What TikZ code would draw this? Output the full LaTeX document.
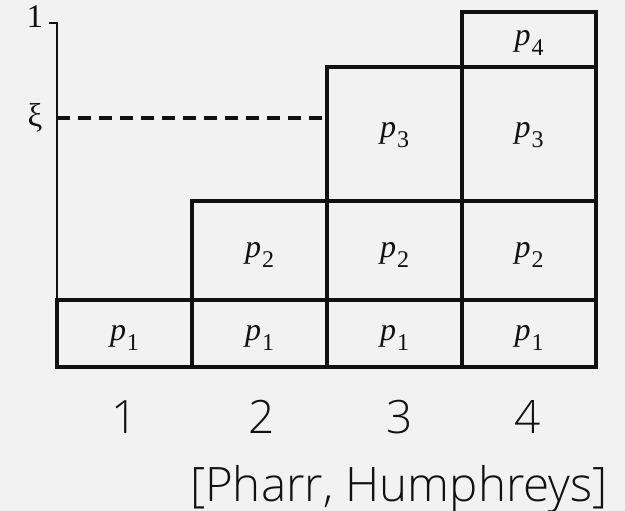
\documentclass[tikz,border=0pt]{standalone}
\usepackage{fontspec}
\setmainfont{Liberation Serif}
\newfontfamily\labelsans{Open Sans}[UprightFont={* Light}]
\definecolor{bg}{HTML}{F2F2F2}
\definecolor{ink}{HTML}{111111}
% probability label p_i
\newcommand{\plabel}[1]{{\fontsize{32}{32}\selectfont\itshape p}\kern1pt\raisebox{-10pt}{\fontsize{24}{24}\selectfont #1}}
\tikzset{
  cell/.style={draw=ink, line width=3.2pt},
  axisline/.style={draw=ink, line width=2pt},
  plab/.style={anchor=base, inner sep=0pt, text=ink},
  colnum/.style={anchor=base, inner sep=0pt, font=\labelsans\fontsize{46}{46}\selectfont, text=ink},
  axlab/.style={anchor=base, inner sep=0pt, text=ink, font=\fontsize{33}{33}\selectfont},
}
\begin{document}
\begin{tikzpicture}[x=1pt,y=-1pt]
  \fill[bg] (0,0) rectangle (625,511);
  \useasboundingbox (0,0) rectangle (625,511);

  % vertical axis with the tick at 1
  \coordinate (tick) at (49,23.5);
  \coordinate (top) at (57,23.5);
  \coordinate (origin) at (57,367);
  \draw[axisline] (tick) -- (top) -- (origin);

  % stacked cells: columns 1..4
  % column 1
  \draw[cell] (57,300) rectangle (192,367);
  % column 2
  \draw[cell] (192,300) rectangle (327,367);
  \draw[cell] (192,201) rectangle (327,300);
  % column 3
  \draw[cell] (327,300) rectangle (462,367);
  \draw[cell] (327,201) rectangle (462,300);
  \draw[cell] (327,67) rectangle (462,201);
  % column 4
  \draw[cell] (462,300) rectangle (596,367);
  \draw[cell] (462,201) rectangle (596,300);
  \draw[cell] (462,67) rectangle (596,201);
  \draw[cell] (462,12) rectangle (596,67);

  % threshold xi
  \coordinate (xiL) at (57,118);
  \coordinate (xiR) at (327,118);
  \draw[ink, line width=3.5pt, dash pattern=on 13pt off 8pt] (xiL) -- (xiR);

  % axis labels
  \node[axlab] (one) at (35,28) {1};
  \node[axlab] (xi) at (35,127) {ξ};

  % cell labels
  \node[plab] (c1p1) at (124.5,340) {\plabel{1}};
  \node[plab] (c2p1) at (259.5,340) {\plabel{1}};
  \node[plab] (c2p2) at (259.5,257) {\plabel{2}};
  \node[plab] (c3p1) at (394.5,340) {\plabel{1}};
  \node[plab] (c3p2) at (394.5,257) {\plabel{2}};
  \node[plab] (c3p3) at (394.5,138) {\plabel{3}};
  \node[plab] (c4p1) at (529,340) {\plabel{1}};
  \node[plab] (c4p2) at (529,257) {\plabel{2}};
  \node[plab] (c4p3) at (529,138) {\plabel{3}};
  \node[plab] (c4p4) at (529,46) {\plabel{4}};

  % column numbers
  \node[colnum] (n1) at (124.5,433) {1};
  \node[colnum] (n2) at (262,433) {2};
  \node[colnum] (n3) at (400,433) {3};
  \node[colnum] (n4) at (528,433) {4};

  % credit
  \node[anchor=base east, inner sep=0pt, text=ink, font=\labelsans\fontsize{47.5}{47.5}\selectfont] (credit) at (608,501) {[Pharr, Humphreys]};
\end{tikzpicture}
\end{document}
